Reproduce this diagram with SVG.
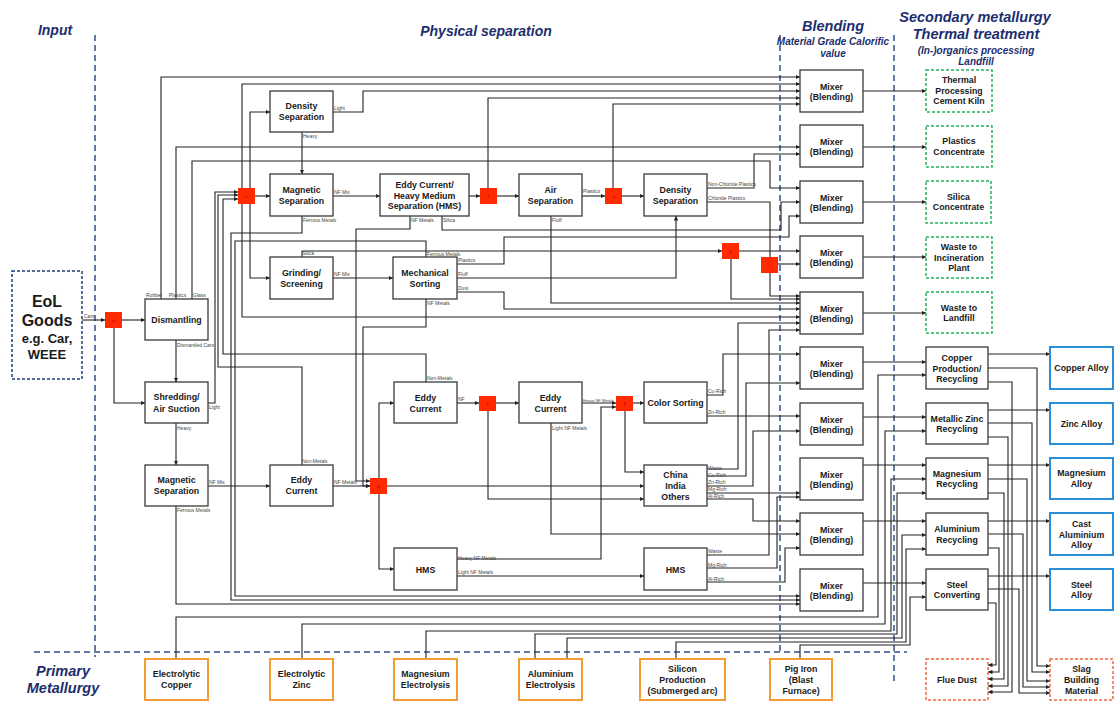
<svg xmlns="http://www.w3.org/2000/svg" width="1117" height="702" viewBox="0 0 1117 702">
<style>
.bx{fill:#fff;stroke:#3a3a3a;stroke-width:1.3}
.gr{fill:#fff;stroke:#22b35c;stroke-width:1.5;stroke-dasharray:3 2}
.bl{fill:#fff;stroke:#2b8fd8;stroke-width:2}
.or{fill:#fff;stroke:#f39c33;stroke-width:2}
.od{fill:#fff;stroke:#f2683a;stroke-width:1.5;stroke-dasharray:3 2}
.nv{fill:#fff;stroke:#1f3f7f;stroke-width:1.5;stroke-dasharray:3 2}
.rs{fill:#ff2a00}
.t{font-family:"Liberation Sans",Arial,sans-serif;font-weight:bold;font-size:8.8px;text-anchor:middle;fill:#1a1a1a}
.big{font-size:16px}
.mid{font-size:13px}
.g{font-family:"Liberation Sans",Arial,sans-serif;font-size:4px;text-anchor:middle;fill:#8b0000}
.lb{font-family:"Liberation Sans",Arial,sans-serif;font-size:5px;fill:#444}
.lb4{font-size:4px}
.hd{font-family:"Liberation Sans",Arial,sans-serif;font-weight:bold;font-style:italic;fill:#1c2e6e;text-anchor:middle}
.dl{fill:none;stroke:#2f4f8f;stroke-width:1.5;stroke-dasharray:6 4}
#connectors path{fill:none;stroke:#222;stroke-width:1.1}
</style>
<defs>
<marker id="a" viewBox="0 0 6 6" refX="6" refY="3" markerWidth="4.5" markerHeight="4.5" markerUnits="userSpaceOnUse" orient="auto"><path d="M0,0 L6,3 L0,6 z" fill="#222"/></marker>
</defs>
<rect width="1117" height="702" fill="#fff"/>

<g id="headings">
<text class="hd" x="55" y="35" font-size="14">Input</text>
<text class="hd" x="486" y="36" font-size="14">Physical separation</text>
<text class="hd" x="833" y="31" font-size="14.5">Blending</text>
<text class="hd" x="833" y="45" font-size="10">Material Grade Calorific</text>
<text class="hd" x="833" y="57" font-size="10">value</text>
<text class="hd" x="975" y="22" font-size="14.5">Secondary metallurgy</text>
<text class="hd" x="976" y="39" font-size="14.5">Thermal treatment</text>
<text class="hd" x="976" y="54" font-size="10">(In-)organics processing</text>
<text class="hd" x="976" y="65" font-size="10">Landfill</text>
<text class="hd" x="63" y="676" font-size="14.5">Primary</text>
<text class="hd" x="63" y="693" font-size="14.5">Metallurgy</text>
</g>

<g id="zones">
<path class="dl" d="M95,35 V657"/>
<path class="dl" d="M34,652 H907"/>
<path class="dl" d="M780,35 V652"/>
<path class="dl" d="M894,35 V682"/>
</g>

<g id="connectors">
<path d="M82,320 H105" marker-end="url(#a)"/>
<path d="M122,320 H145" marker-end="url(#a)"/>
<path d="M114,328 V403 H145" marker-end="url(#a)"/>
<path d="M176,340 V382" marker-end="url(#a)"/>
<path d="M176,423 V465" marker-end="url(#a)"/>
<path d="M208,403 H215 V192 H238" marker-end="url(#a)"/>
<path d="M161,299 V77 H800" marker-end="url(#a)"/>
<path d="M176,299 V147 H800" marker-end="url(#a)"/>
<path d="M192,299 V161 H770 V188 H800" marker-end="url(#a)"/>
<path d="M255,196 H270" marker-end="url(#a)"/>
<path d="M250,188 V112 H270" marker-end="url(#a)"/>
<path d="M250,204 V278 H270" marker-end="url(#a)"/>
<path d="M242,188 V84 H800" marker-end="url(#a)"/>
<path d="M242,204 V317 H800" marker-end="url(#a)"/>
<path d="M333,112 H363 V91 H800" marker-end="url(#a)"/>
<path d="M302,132 V174" marker-end="url(#a)"/>
<path d="M333,196 H380" marker-end="url(#a)"/>
<path d="M302,216 V233 H231 V600 H800" marker-end="url(#a)"/>
<path d="M469,196 H480" marker-end="url(#a)"/>
<path d="M410,216 V229 H356 V481 H370" marker-end="url(#a)"/>
<path d="M442,216 V230 H781 V202 H800" marker-end="url(#a)"/>
<path d="M497,196 H519" marker-end="url(#a)"/>
<path d="M488,188 V98 H800" marker-end="url(#a)"/>
<path d="M582,196 H605" marker-end="url(#a)"/>
<path d="M551,216 V303 H800" marker-end="url(#a)"/>
<path d="M622,196 H644" marker-end="url(#a)"/>
<path d="M613,188 V104 H800" marker-end="url(#a)"/>
<path d="M707,188 H754 V154 H800" marker-end="url(#a)"/>
<path d="M707,202 H770 V296 H800" marker-end="url(#a)"/>
<path d="M778,264 H800" marker-end="url(#a)"/>
<path d="M333,278 H393" marker-end="url(#a)"/>
<path d="M302,257 V251 H722" marker-end="url(#a)"/>
<path d="M739,251 H800" marker-end="url(#a)"/>
<path d="M731,259 V299 H800" marker-end="url(#a)"/>
<path d="M457,264 H504 V237 H789 V216 H800" marker-end="url(#a)"/>
<path d="M457,278 H676 V216" marker-end="url(#a)"/>
<path d="M457,292 H504 V309 H800" marker-end="url(#a)"/>
<path d="M426,257 V241 H235 V596 H800" marker-end="url(#a)"/>
<path d="M426,299 V327 H363 V486 H370" marker-end="url(#a)"/>
<path d="M426,382 V354 H223 V199 H238" marker-end="url(#a)"/>
<path d="M302,465 V367 H218 V195 H238" marker-end="url(#a)"/>
<path d="M208,486 H270" marker-end="url(#a)"/>
<path d="M176,506 V604 H800" marker-end="url(#a)"/>
<path d="M333,486 H370" marker-end="url(#a)"/>
<path d="M387,486 H644" marker-end="url(#a)"/>
<path d="M379,478 V403 H394" marker-end="url(#a)"/>
<path d="M379,494 V569 H394" marker-end="url(#a)"/>
<path d="M457,403 H479" marker-end="url(#a)"/>
<path d="M496,403 H519" marker-end="url(#a)"/>
<path d="M488,411 V499 H644" marker-end="url(#a)"/>
<path d="M582,403 H616" marker-end="url(#a)"/>
<path d="M551,423 V534 H800" marker-end="url(#a)"/>
<path d="M633,403 H644" marker-end="url(#a)"/>
<path d="M625,411 V472 H644" marker-end="url(#a)"/>
<path d="M457,559 H601 V407 H616" marker-end="url(#a)"/>
<path d="M457,576 H644" marker-end="url(#a)"/>
<path d="M707,395 H723 V354 H800" marker-end="url(#a)"/>
<path d="M707,416 H800" marker-end="url(#a)"/>
<path d="M707,469 H738 V323 H800" marker-end="url(#a)"/>
<path d="M707,476 H746 V383 H800" marker-end="url(#a)"/>
<path d="M707,486 H753 V431 H800" marker-end="url(#a)"/>
<path d="M707,493 H800" marker-end="url(#a)"/>
<path d="M707,499 H753 V521 H800" marker-end="url(#a)"/>
<path d="M707,555 H769 V330 H800" marker-end="url(#a)"/>
<path d="M707,568 H777 V497 H800" marker-end="url(#a)"/>
<path d="M707,582 H785 V548 H800" marker-end="url(#a)"/>
<path d="M863,91 H926" marker-end="url(#a)"/>
<path d="M863,147 H926" marker-end="url(#a)"/>
<path d="M863,202 H926" marker-end="url(#a)"/>
<path d="M863,257 H926" marker-end="url(#a)"/>
<path d="M863,313 H926" marker-end="url(#a)"/>
<path d="M863,362 H926" marker-end="url(#a)"/>
<path d="M863,417 H926" marker-end="url(#a)"/>
<path d="M863,465 H926" marker-end="url(#a)"/>
<path d="M863,521 H926" marker-end="url(#a)"/>
<path d="M863,583 H926" marker-end="url(#a)"/>
<path d="M176,659 V617 H878 V375 H926" marker-end="url(#a)"/>
<path d="M302,659 V624 H885 V431 H926" marker-end="url(#a)"/>
<path d="M426,659 V631 H891 V479 H926" marker-end="url(#a)"/>
<path d="M535,659 V634 H897 V493 H926" marker-end="url(#a)"/>
<path d="M567,659 V638 H902 V535 H926" marker-end="url(#a)"/>
<path d="M676,659 V642 H906 V549 H926" marker-end="url(#a)"/>
<path d="M800,659 V645 H910 V597 H926" marker-end="url(#a)"/>
<path d="M988,354 H1050" marker-end="url(#a)"/>
<path d="M988,368 H1037 V666 H1050" marker-end="url(#a)"/>
<path d="M988,382 H1012 V692 H988" marker-end="url(#a)"/>
<path d="M988,410 H1050" marker-end="url(#a)"/>
<path d="M988,423 H1032 V672 H1050" marker-end="url(#a)"/>
<path d="M988,437 H1008 V686 H988" marker-end="url(#a)"/>
<path d="M988,465 H1050" marker-end="url(#a)"/>
<path d="M988,479 H1027 V681 H1050" marker-end="url(#a)"/>
<path d="M988,493 H1004 V679 H988" marker-end="url(#a)"/>
<path d="M988,521 H1050" marker-end="url(#a)"/>
<path d="M988,534 H1023 V687 H1050" marker-end="url(#a)"/>
<path d="M988,548 H999 V672 H988" marker-end="url(#a)"/>
<path d="M988,576 H1050" marker-end="url(#a)"/>
<path d="M988,589 H1019 V693 H1050" marker-end="url(#a)"/>
<path d="M988,603 H996 V665 H988" marker-end="url(#a)"/>
</g>

<g id="labels">
<text class="lb" x="84" y="318">Cars</text>
<text class="lb" x="146" y="297">Rubber</text>
<text class="lb" x="169" y="297">Plastics</text>
<text class="lb" x="193" y="297">Glass</text>
<text class="lb" x="177" y="347">Dismantled Cars</text>
<text class="lb" x="209" y="409">Light</text>
<text class="lb" x="177" y="430">Heavy</text>
<text class="lb" x="177" y="512">Ferrous Metals</text>
<text class="lb" x="209" y="484">NF Mix</text>
<text class="lb" x="302" y="463">Non-Metals</text>
<text class="lb" x="334" y="484">NF Metals</text>
<text class="lb" x="334" y="110">Light</text>
<text class="lb" x="303" y="138">Heavy</text>
<text class="lb" x="334" y="194">NF Mix</text>
<text class="lb" x="303" y="222">Ferrous Metals</text>
<text class="lb" x="411" y="222">NF Metals</text>
<text class="lb" x="443" y="222">Silica</text>
<text class="lb" x="583" y="193">Plastics</text>
<text class="lb" x="552" y="222">Fluff</text>
<text class="lb" x="708" y="186">Non-Chloride Plastics</text>
<text class="lb" x="708" y="200">Chloride Plastics</text>
<text class="lb" x="302" y="255">Silica</text>
<text class="lb" x="334" y="276">NF Mix</text>
<text class="lb" x="427" y="256">Ferrous Metals</text>
<text class="lb" x="458" y="262">Plastics</text>
<text class="lb" x="458" y="276">Fluff</text>
<text class="lb" x="458" y="290">Dust</text>
<text class="lb" x="427" y="305">NF Metals</text>
<text class="lb" x="427" y="380">Non-Metals</text>
<text class="lb" x="458" y="401">NF</text>
<text class="lb lb4" x="583" y="402">Heavy NF Metals</text>
<text class="lb" x="552" y="430">Light NF Metals</text>
<text class="lb" x="708" y="393">Cu-Rich</text>
<text class="lb" x="708" y="414">Zn-Rich</text>
<text class="lb" x="708" y="470">Waste</text>
<text class="lb" x="708" y="477">Cu-Rich</text>
<text class="lb" x="708" y="484">Zn-Rich</text>
<text class="lb" x="708" y="491">Mg-Rich</text>
<text class="lb" x="708" y="498">Al-Rich</text>
<text class="lb" x="458" y="560">Heavy NF Metals</text>
<text class="lb" x="458" y="574">Light NF Metals</text>
<text class="lb" x="708" y="553">Waste</text>
<text class="lb" x="708" y="567">Mg-Rich</text>
<text class="lb" x="708" y="581">Al-Rich</text>
</g>

<g id="splitters">
<rect class="rs" x="105" y="312" width="17" height="16"/><text class="g" x="113.5" y="321.5">α</text>
<rect class="rs" x="238" y="188" width="17" height="16"/><text class="g" x="246.5" y="197.5">ε</text>
<rect class="rs" x="480" y="188" width="17" height="16"/><text class="g" x="488.5" y="197.5">ζ</text>
<rect class="rs" x="605" y="188" width="17" height="16"/><text class="g" x="613.5" y="197.5">η</text>
<rect class="rs" x="722" y="243" width="17" height="16"/><text class="g" x="730.5" y="252.5">θ</text>
<rect class="rs" x="761" y="257" width="17" height="16"/><text class="g" x="769.5" y="266.5">ι</text>
<rect class="rs" x="479" y="396" width="17" height="15"/><text class="g" x="487.5" y="405">γ</text>
<rect class="rs" x="616" y="396" width="17" height="15"/><text class="g" x="624.5" y="405">δ</text>
<rect class="rs" x="370" y="478" width="17" height="16"/><text class="g" x="378.5" y="487.5">β</text>
</g>

<g id="eol"><rect class="nv" x="12" y="271" width="70" height="108"/>
<text class="t big" x="47" y="307">EoL</text><text class="t big" x="47" y="326">Goods</text><text class="t mid" x="47" y="343">e.g. Car,</text><text class="t mid" x="47" y="359">WEEE</text></g>

<g id="dismantling"><rect class="bx" x="145" y="299" width="63" height="41"/><text class="t" x="176.5" y="322.5">Dismantling</text></g>
<g id="shredding"><rect class="bx" x="145" y="382" width="63" height="41"/><text class="t" x="176.5" y="400">Shredding/</text><text class="t" x="176.5" y="411.5">Air Suction</text></g>
<g id="magnetic2"><rect class="bx" x="145" y="465" width="63" height="41"/><text class="t" x="176.5" y="483">Magnetic</text><text class="t" x="176.5" y="494">Separation</text></g>
<g id="density1"><rect class="bx" x="270" y="91" width="63" height="41"/><text class="t" x="301.5" y="109">Density</text><text class="t" x="301.5" y="120">Separation</text></g>
<g id="magnetic1"><rect class="bx" x="270" y="174" width="63" height="42"/><text class="t" x="301.5" y="193">Magnetic</text><text class="t" x="301.5" y="203.5">Separation</text></g>
<g id="grinding"><rect class="bx" x="270" y="257" width="63" height="42"/><text class="t" x="301.5" y="276">Grinding/</text><text class="t" x="301.5" y="286.5">Screening</text></g>
<g id="eddyhms"><rect class="bx" x="380" y="174" width="89" height="42"/><text class="t" x="424.5" y="188">Eddy Current/</text><text class="t" x="424.5" y="198.5">Heavy Medium</text><text class="t" x="424.5" y="208.5">Separation (HMS)</text></g>
<g id="air"><rect class="bx" x="519" y="174" width="63" height="42"/><text class="t" x="550.5" y="193">Air</text><text class="t" x="550.5" y="203.5">Separation</text></g>
<g id="density2"><rect class="bx" x="644" y="174" width="63" height="42"/><text class="t" x="675.5" y="193">Density</text><text class="t" x="675.5" y="203.5">Separation</text></g>
<g id="mechanical"><rect class="bx" x="393" y="257" width="64" height="42"/><text class="t" x="425" y="276">Mechanical</text><text class="t" x="425" y="286.5">Sorting</text></g>
<g id="eddy1"><rect class="bx" x="394" y="382" width="63" height="41"/><text class="t" x="425.5" y="400.5">Eddy</text><text class="t" x="425.5" y="411.5">Current</text></g>
<g id="eddy2"><rect class="bx" x="519" y="382" width="63" height="41"/><text class="t" x="550.5" y="400.5">Eddy</text><text class="t" x="550.5" y="411.5">Current</text></g>
<g id="color"><rect class="bx" x="644" y="382" width="63" height="41"/><text class="t" x="675.5" y="406">Color Sorting</text></g>
<g id="china"><rect class="bx" x="644" y="465" width="63" height="41"/><text class="t" x="675.5" y="478">China</text><text class="t" x="675.5" y="489">India</text><text class="t" x="675.5" y="499.5">Others</text></g>
<g id="eddy3"><rect class="bx" x="270" y="465" width="63" height="41"/><text class="t" x="301.5" y="483">Eddy</text><text class="t" x="301.5" y="494">Current</text></g>
<g id="hms1"><rect class="bx" x="394" y="548" width="63" height="42"/><text class="t" x="425.5" y="572.5">HMS</text></g>
<g id="hms2"><rect class="bx" x="644" y="548" width="63" height="42"/><text class="t" x="675.5" y="572.5">HMS</text></g>

<g id="mixer1"><rect class="bx" x="800" y="70" width="63" height="42"/><text class="t" x="831.5" y="89.5">Mixer</text><text class="t" x="831.5" y="100">(Blending)</text></g>
<g id="mixer2"><rect class="bx" x="800" y="125" width="63" height="42"/><text class="t" x="831.5" y="144.5">Mixer</text><text class="t" x="831.5" y="155">(Blending)</text></g>
<g id="mixer3"><rect class="bx" x="800" y="181" width="63" height="42"/><text class="t" x="831.5" y="200.5">Mixer</text><text class="t" x="831.5" y="211">(Blending)</text></g>
<g id="mixer4"><rect class="bx" x="800" y="236" width="63" height="42"/><text class="t" x="831.5" y="255.5">Mixer</text><text class="t" x="831.5" y="266">(Blending)</text></g>
<g id="mixer5"><rect class="bx" x="800" y="292" width="63" height="42"/><text class="t" x="831.5" y="311.5">Mixer</text><text class="t" x="831.5" y="322">(Blending)</text></g>
<g id="mixer6"><rect class="bx" x="800" y="347" width="63" height="42"/><text class="t" x="831.5" y="366.5">Mixer</text><text class="t" x="831.5" y="377">(Blending)</text></g>
<g id="mixer7"><rect class="bx" x="800" y="403" width="63" height="42"/><text class="t" x="831.5" y="422.5">Mixer</text><text class="t" x="831.5" y="433">(Blending)</text></g>
<g id="mixer8"><rect class="bx" x="800" y="458" width="63" height="42"/><text class="t" x="831.5" y="477.5">Mixer</text><text class="t" x="831.5" y="488">(Blending)</text></g>
<g id="mixer9"><rect class="bx" x="800" y="513" width="63" height="42"/><text class="t" x="831.5" y="532.5">Mixer</text><text class="t" x="831.5" y="543">(Blending)</text></g>
<g id="mixer10"><rect class="bx" x="800" y="569" width="63" height="42"/><text class="t" x="831.5" y="588.5">Mixer</text><text class="t" x="831.5" y="599">(Blending)</text></g>

<g id="thermal"><rect class="gr" x="926" y="70" width="66" height="42"/><text class="t" x="959" y="83">Thermal</text><text class="t" x="959" y="94">Processing</text><text class="t" x="959" y="104">Cement Kiln</text></g>
<g id="plastics"><rect class="gr" x="926" y="126" width="66" height="41"/><text class="t" x="959" y="144">Plastics</text><text class="t" x="959" y="154.5">Concentrate</text></g>
<g id="silica"><rect class="gr" x="926" y="181" width="65" height="42"/><text class="t" x="958.5" y="199.5">Silica</text><text class="t" x="958.5" y="210">Concentrate</text></g>
<g id="incineration"><rect class="gr" x="926" y="237" width="66" height="41"/><text class="t" x="959" y="250">Waste to</text><text class="t" x="959" y="260.5">Incineration</text><text class="t" x="959" y="271">Plant</text></g>
<g id="landfill"><rect class="gr" x="926" y="292" width="66" height="41"/><text class="t" x="959" y="310.5">Waste to</text><text class="t" x="959" y="321">Landfill</text></g>

<g id="copper"><rect class="bx" x="926" y="347" width="62" height="42"/><text class="t" x="957" y="361">Copper</text><text class="t" x="957" y="372">Production/</text><text class="t" x="957" y="382">Recycling</text></g>
<g id="zinc"><rect class="bx" x="926" y="403" width="62" height="41"/><text class="t" x="957" y="421.5">Metallic Zinc</text><text class="t" x="957" y="431.5">Recycling</text></g>
<g id="magnesium"><rect class="bx" x="926" y="458" width="62" height="41"/><text class="t" x="957" y="476.5">Magnesium</text><text class="t" x="957" y="487">Recycling</text></g>
<g id="aluminium"><rect class="bx" x="926" y="513" width="62" height="42"/><text class="t" x="957" y="532">Aluminium</text><text class="t" x="957" y="542.5">Recycling</text></g>
<g id="steel"><rect class="bx" x="926" y="569" width="62" height="41"/><text class="t" x="957" y="587.5">Steel</text><text class="t" x="957" y="598">Converting</text></g>

<g id="copperalloy"><rect class="bl" x="1050" y="347" width="63" height="42"/><text class="t" x="1081.5" y="371">Copper Alloy</text></g>
<g id="zincalloy"><rect class="bl" x="1050" y="403" width="63" height="41"/><text class="t" x="1081.5" y="426.5">Zinc Alloy</text></g>
<g id="mgalloy"><rect class="bl" x="1050" y="458" width="63" height="41"/><text class="t" x="1081.5" y="476">Magnesium</text><text class="t" x="1081.5" y="487">Alloy</text></g>
<g id="alalloy"><rect class="bl" x="1050" y="513" width="63" height="42"/><text class="t" x="1081.5" y="526.5">Cast</text><text class="t" x="1081.5" y="537.5">Aluminium</text><text class="t" x="1081.5" y="548">Alloy</text></g>
<g id="steelalloy"><rect class="bl" x="1050" y="569" width="63" height="41"/><text class="t" x="1081.5" y="587.5">Steel</text><text class="t" x="1081.5" y="598">Alloy</text></g>

<g id="fluedust"><rect class="od" x="926" y="659" width="62" height="41"/><text class="t" x="957" y="683">Flue Dust</text></g>
<g id="slag"><rect class="od" x="1050" y="659" width="63" height="41"/><text class="t" x="1081.5" y="672">Slag</text><text class="t" x="1081.5" y="683">Building</text><text class="t" x="1081.5" y="693.5">Material</text></g>

<g id="ecopper"><rect class="or" x="145" y="659" width="63" height="41"/><text class="t" x="176.5" y="677">Electrolytic</text><text class="t" x="176.5" y="687.5">Copper</text></g>
<g id="ezinc"><rect class="or" x="270" y="659" width="63" height="41"/><text class="t" x="301.5" y="677">Electrolytic</text><text class="t" x="301.5" y="687.5">Zinc</text></g>
<g id="emg"><rect class="or" x="394" y="659" width="63" height="41"/><text class="t" x="425.5" y="677">Magnesium</text><text class="t" x="425.5" y="687.5">Electrolysis</text></g>
<g id="eal"><rect class="or" x="519" y="659" width="63" height="41"/><text class="t" x="550.5" y="677">Aluminium</text><text class="t" x="550.5" y="687.5">Electrolysis</text></g>
<g id="silicon"><rect class="or" x="640" y="659" width="85" height="41"/><text class="t" x="682.5" y="672">Silicon</text><text class="t" x="682.5" y="682.5">Production</text><text class="t" x="682.5" y="693.5">(Submerged arc)</text></g>
<g id="pigiron"><rect class="or" x="770" y="659" width="62" height="41"/><text class="t" x="801" y="672">Pig Iron</text><text class="t" x="801" y="682.5">(Blast</text><text class="t" x="801" y="693.5">Furnace)</text></g>
</svg>
